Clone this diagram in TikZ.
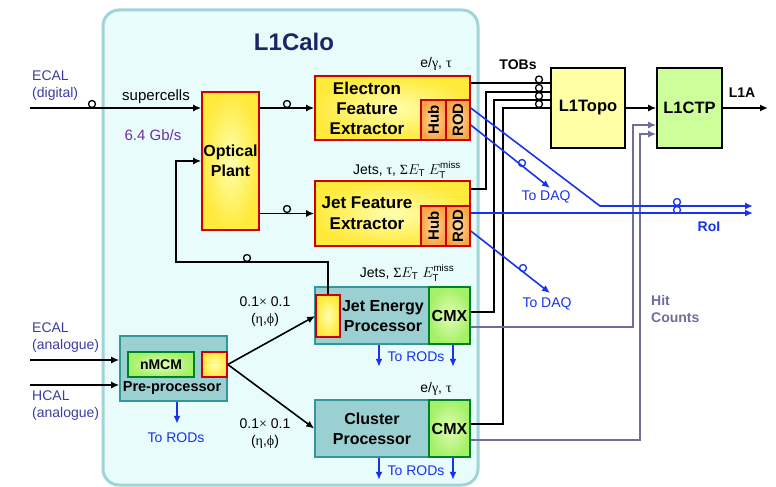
\documentclass[tikz,border=0pt]{standalone}
\usepackage{amsmath}
\usepackage{fontspec}
\setmainfont{Liberation Sans}
\newfontfamily\griega{Liberation Serif}
\usepackage{xcolor}
\usepackage{tikz}
\usetikzlibrary{arrows.meta}

\definecolor{calofondo}{RGB}{232,252,252}
\definecolor{caloborde}{RGB}{160,212,216}
\definecolor{titulo}{RGB}{30,35,100}
\definecolor{amarillo}{RGB}{255,234,60}
\definecolor{amarilloclaro}{RGB}{255,255,175}
\definecolor{rojo}{RGB}{204,0,0}
\definecolor{naranja}{RGB}{250,165,70}
\definecolor{naranjaclaro}{RGB}{255,218,160}
\definecolor{verde}{RGB}{165,240,105}
\definecolor{verdeclaro}{RGB}{225,255,180}
\definecolor{verdeborde}{RGB}{0,130,40}
\definecolor{turquesa}{RGB}{155,208,210}
\definecolor{turquesaborde}{RGB}{50,150,155}
\definecolor{topofondo}{RGB}{255,255,165}
\definecolor{ctpfondo}{RGB}{204,255,153}
\definecolor{azul}{RGB}{25,50,235}
\definecolor{gris}{RGB}{110,110,155}
\definecolor{etiqazul}{RGB}{60,60,160}
\definecolor{morado}{RGB}{112,48,160}

\begin{document}
\begin{tikzpicture}[x=1pt, y=-1pt, >={Latex[length=8pt,width=7pt]},
		caja/.style={draw, line width=1.6pt, inner sep=0pt},
		amarilla/.style={caja, draw=rojo, inner color=amarilloclaro, outer color=amarillo},
		naranjabox/.style={caja, draw=rojo, inner color=naranjaclaro, outer color=naranja, rotate=90, font=\bfseries\fontsize{15}{17}\selectfont},
		verdebox/.style={caja, draw=verdeborde, inner color=verdeclaro, outer color=verde, font=\bfseries\fontsize{16}{19}\selectfont},
		turquesabox/.style={caja, draw=turquesaborde, fill=turquesa},
		texto/.style={font=\bfseries\fontsize{16}{19.5}\selectfont, align=center, inner sep=0pt},
		etiq/.style={font=\fontsize{14}{17}\selectfont, inner sep=0pt},
		negrita/.style={font=\bfseries\fontsize{14}{17}\selectfont, inner sep=0pt},
		flecha/.style={->, line width=1.6pt},
		linea/.style={line width=1.6pt},
		lazo/.style={line width=1.3pt}]

							\useasboundingbox (0,0) rectangle (776,487);

							% Marco L1Calo
							\node[draw=caloborde, line width=3pt, fill=calofondo, rounded corners=16pt, minimum width=375, minimum height=475] (l1calo) at (290.5,247.5) {};
							\node[font=\bfseries\fontsize{24}{28}\selectfont, text=titulo] (titulo) at (294,42) {L1Calo};

							% Optical Plant
							\node[amarilla, texto, minimum width=57, minimum height=138] (optica) at (230.5,161) {Optical\\Plant};

							% Electron Feature Extractor
							\node[amarilla, minimum width=155, minimum height=64] (efex) at (392.5,108) {};
							\node[texto, font=\bfseries\fontsize{17}{20}\selectfont] (efextxt) at (367,108) {Electron\\Feature\\Extractor};
							\node[naranjabox, minimum width=40, minimum height=25] (efexhub) at (433.5,120) {Hub};
							\node[naranjabox, minimum width=40, minimum height=24] (efexrod) at (458,120) {ROD};

							% Jet Feature Extractor
							\node[amarilla, minimum width=155, minimum height=65] (jfex) at (392.5,213.5) {};
							\node[texto, font=\bfseries\fontsize{17}{21}\selectfont] (jfextxt) at (367,213) {Jet Feature\\Extractor};
							\node[naranjabox, minimum width=40, minimum height=25] (jfexhub) at (433.5,226) {Hub};
							\node[naranjabox, minimum width=40, minimum height=24] (jfexrod) at (458,226) {ROD};

							% Jet Energy Processor
							\node[turquesabox, minimum width=155, minimum height=57] (jep) at (392.5,315.5) {};
							\node[verdebox, minimum width=41, minimum height=57] (jepcmx) at (449.5,315.5) {CMX};
							\node[amarilla, minimum width=24, minimum height=42] (jepin) at (328,316) {};
							\node[texto] (jeptxt) at (383,316) {Jet Energy\\Processor};

							% Cluster Processor
							\node[turquesabox, minimum width=155, minimum height=57] (cp) at (392.5,428.5) {};
							\node[verdebox, minimum width=41, minimum height=57] (cpcmx) at (449.5,428.5) {CMX};
							\node[texto] (cptxt) at (372,429) {Cluster\\Processor};

							% Pre-processor
							\node[turquesabox, minimum width=107, minimum height=65] (ppr) at (173.5,368.5) {};
							\node[verdebox, font=\bfseries\fontsize{14}{17}\selectfont, minimum width=66, minimum height=25] (nmcm) at (161,364.5) {nMCM};
							\node[amarilla, minimum width=25, minimum height=25] (pprout) at (214.5,364.5) {};
							\node[negrita, font=\bfseries\fontsize{14.5}{17}\selectfont] (pprtxt) at (172,388) {Pre-processor};

							% L1Topo y L1CTP
							\node[caja, fill=topofondo, minimum width=74, minimum height=80, font=\bfseries\fontsize{16.5}{19}\selectfont] (l1topo) at (588,108) {L1Topo};
							\node[caja, fill=ctpfondo, minimum width=65, minimum height=80, font=\bfseries\fontsize{16.5}{19}\selectfont] (l1ctp) at (689.5,108) {L1CTP};

							% Puntos libres
							\coordinate (ecaldigin) at (30,108);
							\coordinate (ecalanain) at (30,360);
							\coordinate (hcalanain) at (30,385);
							\coordinate (giro) at (176,262);
							\coordinate (l1aout) at (768,108);
							\coordinate (roiefex) at (753,206);
							\coordinate (roijfex) at (753,213);
							\coordinate (daqefex) at (550,188);
							\coordinate (daqjfex) at (550,293);

							% Entradas y Optical Plant
							\draw[flecha] (ecaldigin) -- (optica.west |- ecaldigin);
							\draw[flecha] (optica.east |- efex.west) -- (efex.west);
							\draw[flecha] (optica.east |- jfex.west) -- (jfex.west);
							\draw[flecha] (jepin.north) |- (giro) |- (optica.west);
							\draw[flecha] (ecalanain) -- (ppr.west |- ecalanain);
							\draw[flecha] (hcalanain) -- (ppr.west |- hcalanain);
							\draw[flecha] (pprout.east) -- (jepin.west);
							\draw[flecha] (pprout.east) -- (cp.west);

							% TOBs hacia L1Topo
							\draw[linea] (efex.east |- 0,83) -- (l1topo.west |- 0,83);
							\draw[linea] (jfex.east |- 0,189) -| (486,92) -- (l1topo.west |- 0,92);
							\draw[linea] (jepcmx.east |- 0,312) -| (494,100) -- (l1topo.west |- 0,100);
							\draw[linea] (cpcmx.east |- 0,424) -| (503,108) -- (l1topo.west);
							\draw[flecha] (l1topo.east) -- (l1ctp.west);
							\draw[flecha] (l1ctp.east) -- (l1aout);

							% Hit counts (gris)
							\draw[flecha, gris] (jepcmx.east |- 0,327) -| (633,125) -- (l1ctp.west |- 0,125);
							\draw[flecha, gris] (cpcmx.east |- 0,440) -| (640,134) -- (l1ctp.west |- 0,134);

							% Lineas RoI y DAQ (azul)
							\draw[flecha, azul] (efex.east |- 0,108) -- (600,206) -- (roiefex);
							\draw[flecha, azul] (efex.east |- 0,125) -- (daqefex);
							\draw[flecha, azul] (jfex.east |- 0,213) -- (roijfex);
							\draw[flecha, azul] (jfex.east |- 0,231) -- (daqjfex);

							% Hacia los RODs
							\draw[flecha, azul] (ppr.south -| 177,0) -- ++(0,22);
							\draw[flecha, azul] (jep.south -| 379,0) -- ++(0,22);
							\draw[flecha, azul] (jepcmx.south -| 453,0) -- ++(0,22);
							\draw[flecha, azul] (cp.south -| 379,0) -- ++(0,22);
							\draw[flecha, azul] (cpcmx.south -| 453,0) -- ++(0,22);

							% Saltos de linea (circulitos)
							\draw[lazo] (92,104) circle (3.5pt);
							\draw[lazo] (287,104) circle (3.5pt);
							\draw[lazo] (287,209) circle (3.5pt);
							\draw[lazo] (247,258) circle (3.5pt);
							\foreach \y in {79.5,88,96,104}
								\draw[lazo] (539,\y) circle (3.5pt);
							\draw[lazo, azul] (522,163) circle (3.5pt);
							\draw[lazo, azul] (523,268) circle (3.5pt);
							\draw[lazo, azul] (677,202) circle (3.5pt);
							\draw[lazo, azul] (677,210) circle (3.5pt);

							% Etiquetas
							\node[etiq, text=etiqazul, anchor=west, align=left] (ecaldig) at (32,86) {ECAL\\(digital)};
							\node[etiq, text=etiqazul, anchor=west, align=left] (ecalana) at (32,338) {ECAL\\(analogue)};
							\node[etiq, text=etiqazul, anchor=west, align=left] (hcalana) at (32,406) {HCAL\\(analogue)};
							\node[etiq, font=\fontsize{15}{17}\selectfont] (supercells) at (156,97) {supercells};
							\node[etiq, font=\fontsize{15}{17}\selectfont, text=morado] (tasa) at (153,135) {6.4 Gb/s};
							\node[etiq] (efexobj) at (436,64) {e/{\griega γ}, {\griega τ}};
							\node[etiq] (jfexobj) at (407,170) {Jets, {\griega τ}, {\griega Σ}$E_\text{T}$ $E_\text{T}^\text{miss}$};
							\node[etiq] (jepobj) at (407,273) {Jets, {\griega Σ}$E_\text{T}$ $E_\text{T}^\text{miss}$};
							\node[etiq] (cpobj) at (436,389) {e/{\griega γ}, {\griega τ}};
							\node[etiq, align=center] (gran1) at (265,312) {0.1{\griega ×} 0.1\\({\griega η},{\griega ϕ})};
							\node[etiq, align=center] (gran2) at (265,434) {0.1{\griega ×} 0.1\\({\griega η},{\griega ϕ})};
							\node[etiq, text=azul] (rods1) at (176,438) {To RODs};
							\node[etiq, text=azul] (rods2) at (416,357) {To RODs};
							\node[etiq, text=azul] (rods3) at (416,471) {To RODs};
							\node[etiq, text=azul] (daq1) at (546,197) {To DAQ};
							\node[etiq, text=azul] (daq2) at (547,304) {To DAQ};
							\node[negrita, text=azul] (roi) at (709,227) {RoI};
							\node[negrita, text=gris, anchor=west, align=left] (hits) at (651,309) {Hit\\Counts};
							\node[negrita] (tobs) at (518,65) {TOBs};
							\node[negrita] (l1a) at (742,93) {L1A};

						\end{tikzpicture}
\end{document}
